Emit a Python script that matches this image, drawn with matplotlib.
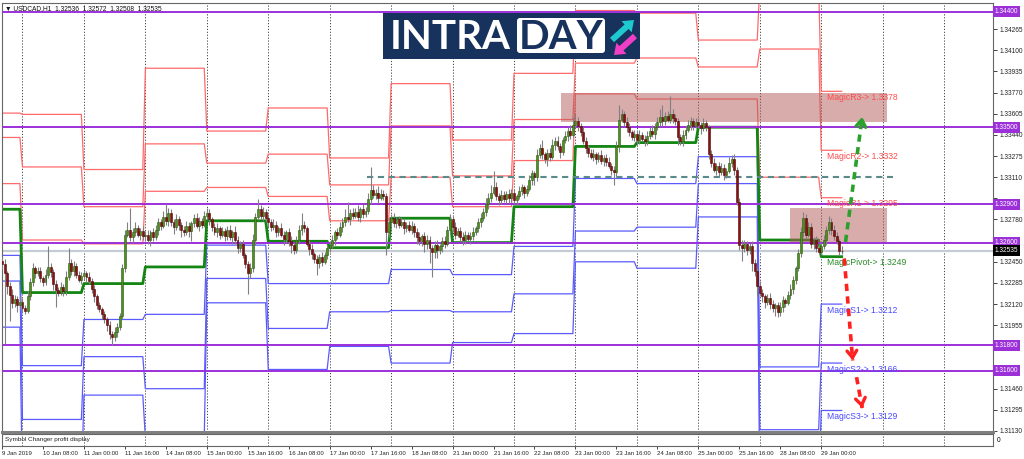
import numpy as np
import pandas as pd
import matplotlib
matplotlib.use("Agg")
import matplotlib.pyplot as plt
from matplotlib.patches import Rectangle, FancyBboxPatch, FancyArrow

plt.rcParams["font.family"] = ["Liberation Sans", "DejaVu Sans"]

# ---- data: USDCAD H1 closes, one row per trading day (first bar 9 Jan 16:00) ----
first_open = 1.3246
closes = [
    1.3243, 1.3236, 1.3226, 1.3219, 1.3213, 1.3216, 1.3211, 1.3214,
    1.3209, 1.3207, 1.3218, 1.3229, 1.3240, 1.3236, 1.3238, 1.3232, 1.3229, 1.3235, 1.3241, 1.3237,
    1.3228, 1.3223, 1.3221, 1.3225, 1.3222, 1.3233, 1.3244, 1.3238, 1.3242, 1.3235, 1.3231, 1.3234,
    1.3236, 1.3233, 1.3230, 1.3224, 1.3218, 1.3211, 1.3208, 1.3204, 1.3200, 1.3196, 1.3189, 1.3186,
    1.3190, 1.3194, 1.3203, 1.3240, 1.3266, 1.3270, 1.3264, 1.3268, 1.3271, 1.3266, 1.3269, 1.3265,
    1.3266, 1.3262, 1.3268, 1.3264, 1.3270, 1.3276, 1.3273, 1.3280, 1.3277, 1.3283, 1.3276, 1.3272,
    1.3278, 1.3274, 1.3270, 1.3268, 1.3273, 1.3269, 1.3275, 1.3279, 1.3273, 1.3277, 1.3274, 1.3281,
    1.3283, 1.3278, 1.3272, 1.3268, 1.3271, 1.3266, 1.3269, 1.3265, 1.3270, 1.3264, 1.3268, 1.3262,
    1.3256, 1.3259, 1.3250, 1.3243, 1.3236, 1.3240, 1.3262, 1.3280, 1.3286, 1.3281, 1.3284, 1.3279,
    1.3276, 1.3272, 1.3274, 1.3268, 1.3271, 1.3266, 1.3263, 1.3268, 1.3261, 1.3258, 1.3254, 1.3262,
    1.3270, 1.3274, 1.3271, 1.3259, 1.3255, 1.3251, 1.3247, 1.3244, 1.3249, 1.3245, 1.3250, 1.3256,
    1.3258, 1.3262, 1.3268, 1.3266, 1.3272, 1.3276, 1.3280, 1.3278, 1.3283, 1.3281, 1.3284, 1.3280,
    1.3286, 1.3282, 1.3285, 1.3294, 1.3301, 1.3297, 1.3299, 1.3295, 1.3298, 1.3296, 1.3268, 1.3276,
    1.3279, 1.3275, 1.3278, 1.3274, 1.3276, 1.3271, 1.3274, 1.3270, 1.3273, 1.3268, 1.3264, 1.3261,
    1.3265, 1.3259, 1.3262, 1.3256, 1.3253, 1.3258, 1.3254, 1.3257, 1.3261, 1.3259, 1.3270, 1.3278,
    1.3272, 1.3266, 1.3269, 1.3264, 1.3262, 1.3266, 1.3263, 1.3265, 1.3268, 1.3271, 1.3276, 1.3279,
    1.3284, 1.3290, 1.3295, 1.3299, 1.3303, 1.3296, 1.3293, 1.3297, 1.3294, 1.3298, 1.3295, 1.3299,
    1.3293, 1.3296, 1.3300, 1.3303, 1.3299, 1.3302, 1.3309, 1.3314, 1.3311, 1.3328, 1.3334, 1.3329,
    1.3325, 1.3330, 1.3327, 1.3336, 1.3339, 1.3335, 1.3331, 1.3340, 1.3343, 1.3347, 1.3344, 1.3352,
    1.3355, 1.3351, 1.3346, 1.3339, 1.3334, 1.3330, 1.3327, 1.3329, 1.3325, 1.3328, 1.3324, 1.3326,
    1.3323, 1.3320, 1.3317, 1.3315, 1.3335, 1.3356, 1.3360, 1.3354, 1.3350, 1.3346, 1.3342, 1.3345,
    1.3340, 1.3344, 1.3341, 1.3339, 1.3343, 1.3347, 1.3345, 1.3350, 1.3354, 1.3358, 1.3355, 1.3359,
    1.3356, 1.3360, 1.3357, 1.3355, 1.3342, 1.3339, 1.3344, 1.3348, 1.3352, 1.3355, 1.3351, 1.3354,
    1.3352, 1.3349, 1.3353, 1.3350, 1.3329, 1.3322, 1.3317, 1.3320, 1.3315, 1.3318, 1.3313, 1.3316,
    1.3322, 1.3325, 1.3317, 1.3292, 1.3258, 1.3256, 1.3259, 1.3254, 1.3257, 1.3244, 1.3238, 1.3226,
    1.3221, 1.3218, 1.3214, 1.3217, 1.3212, 1.3209, 1.3211, 1.3206, 1.3210, 1.3215, 1.3213, 1.3219,
    1.3224, 1.3231, 1.3240, 1.3252, 1.3268, 1.3279, 1.3266, 1.3272, 1.3259, 1.3262, 1.3256, 1.3253,
    1.3257, 1.3262, 1.3270, 1.3276, 1.3270, 1.3265, 1.3261, 1.32536, 1.32535,
]
# wick lengths in pips above / below the body
wick_up = [
    3, 4, 2, 3, 5, 3, 2, 4,
    3, 2, 4, 3, 4, 2, 3, 3, 2, 4, 16, 3, 2, 3, 2, 4, 3, 5, 12, 3, 4, 2, 3, 3,
    3, 2, 4, 2, 3, 2, 3, 2, 3, 2, 3, 2, 4, 3, 2, 3, 4, 6, 17, 3, 5, 3, 2, 4,
    3, 4, 2, 3, 4, 3, 2, 5, 10, 4, 3, 2, 4, 3, 2, 3, 4, 3, 2, 3, 4, 3, 2, 4,
    4, 3, 2, 3, 4, 2, 3, 2, 3, 4, 2, 5, 3, 2, 3, 2, 3, 4, 5, 3, 8, 3, 4, 2,
    3, 2, 4, 3, 2, 4, 3, 2, 3, 4, 2, 3, 4, 9, 3, 2, 3, 4, 2, 3, 2, 4, 3, 2,
    3, 4, 2, 3, 4, 3, 6, 12, 3, 4, 3, 5, 2, 4, 3, 5, 18, 4, 3, 5, 4, 3, 3, 4,
    3, 4, 2, 3, 4, 3, 2, 3, 4, 2, 3, 4, 2, 3, 4, 3, 2, 3, 4, 2, 3, 4, 3, 4,
    3, 4, 2, 3, 4, 3, 2, 3, 4, 2, 3, 4, 3, 5, 4, 6, 13, 4, 3, 4, 3, 2, 4, 3,
    3, 2, 4, 3, 2, 3, 4, 3, 2, 5, 3, 6, 2, 3, 4, 5, 3, 4, 3, 2, 4, 3, 5, 6,
    6, 3, 2, 4, 3, 2, 3, 4, 2, 3, 4, 2, 3, 4, 2, 3, 4, 11, 4, 3, 4, 3, 2, 3,
    3, 4, 2, 3, 4, 3, 5, 3, 4, 6, 9, 3, 4, 14, 4, 3, 2, 3, 4, 3, 4, 3, 2, 3,
    3, 2, 4, 3, 2, 3, 4, 2, 3, 4, 3, 2, 5, 3, 4, 2, 3, 4, 3, 2, 3, 4, 3, 2,
    4, 3, 2, 3, 4, 3, 2, 3, 4, 3, 2, 3, 4, 3, 2, 3, 4, 5, 3, 4, 3, 2, 3, 4,
    3, 4, 3, 5, 3, 4, 3, 2, 3.6,
]
wick_dn = [
    4, 55, 6, 20, 4, 3, 5, 3,
    4, 3, 2, 3, 3, 4, 2, 3, 3, 2, 3, 4, 5, 13, 3, 2, 4, 3, 2, 3, 4, 3, 2, 3,
    3, 4, 2, 3, 4, 3, 2, 4, 3, 5, 4, 6, 3, 4, 2, 3, 3, 2, 3, 4, 3, 2, 4, 3,
    4, 3, 5, 3, 2, 4, 3, 2, 3, 4, 3, 5, 2, 4, 6, 3, 2, 5, 8, 3, 2, 4, 3, 2,
    3, 4, 3, 2, 4, 3, 2, 4, 3, 2, 5, 3, 4, 3, 2, 3, 16, 4, 3, 4, 2, 3, 4, 3,
    4, 3, 2, 4, 3, 2, 5, 3, 4, 6, 3, 2, 3, 4, 3, 2, 5, 4, 3, 9, 4, 3, 2, 3,
    3, 2, 4, 3, 2, 4, 3, 2, 4, 3, 2, 3, 4, 3, 2, 3, 4, 2, 3, 4, 2, 3, 18, 4,
    4, 3, 4, 3, 2, 4, 3, 2, 3, 4, 5, 3, 4, 6, 4, 12, 20, 5, 6, 3, 4, 3, 2, 3,
    4, 3, 2, 3, 4, 3, 2, 4, 3, 2, 3, 4, 2, 3, 4, 3, 2, 3, 4, 3, 2, 3, 4, 3,
    3, 4, 2, 3, 4, 3, 2, 4, 6, 3, 2, 4, 3, 5, 3, 2, 4, 3, 5, 3, 2, 4, 3, 2,
    3, 4, 3, 2, 4, 3, 2, 3, 4, 2, 3, 4, 3, 2, 4, 10, 3, 4, 2, 3, 4, 3, 2, 3,
    4, 3, 2, 4, 3, 2, 3, 4, 2, 3, 4, 3, 2, 3, 4, 3, 6, 3, 4, 3, 2, 4, 3, 2,
    3, 4, 2, 3, 4, 3, 2, 4, 3, 2, 4, 3, 2, 3, 4, 3, 4, 10, 3, 4, 3, 6, 4, 8,
    3, 4, 5, 3, 4, 3, 6, 4, 3, 4, 3, 2, 3, 4, 3, 2, 3, 4, 3, 2, 3, 4, 3, 2,
    3, 2, 4, 3, 4, 3, 2, 3, 2.7,
]

# daily Magic pivot levels (9 Jan ... 29 Jan)
lvl_R3 = [1.3361, 1.3360, 1.3317, 1.3396, 1.3347, 1.3365, 1.3326, 1.3384, 1.3340, 1.3392, 1.3441, 1.3439, 1.3418, 1.3460, 1.3378]
lvl_R2 = [1.3342, 1.3319, 1.3288, 1.3337, 1.3322, 1.3329, 1.3305, 1.3351, 1.3312, 1.3356, 1.3400, 1.3404, 1.3397, 1.3411, 1.3332]
lvl_R1 = [1.3306, 1.3262, 1.3259, 1.3300, 1.3303, 1.3296, 1.3277, 1.3311, 1.3288, 1.3324, 1.3376, 1.3372, 1.3372, 1.3311, 1.3295]
lvl_P = [1.3286, 1.3221, 1.3228, 1.3241, 1.3277, 1.3261, 1.3256, 1.3279, 1.3260, 1.3288, 1.3335, 1.3338, 1.3350, 1.3262, 1.3249]
lvl_S1 = [1.3250, 1.3164, 1.3200, 1.3204, 1.3258, 1.3228, 1.3228, 1.3239, 1.3235, 1.3257, 1.3310, 1.3306, 1.3327, 1.3163, 1.3212]
lvl_S2 = [1.3230, 1.3122, 1.3171, 1.3146, 1.3232, 1.3193, 1.3206, 1.3207, 1.3206, 1.3220, 1.3269, 1.3272, 1.3306, 1.3114, 1.3166]
lvl_S3 = [1.3194, 1.3065, 1.3141, 1.3108, 1.3213, 1.3161, 1.3179, 1.3166, 1.3182, 1.3189, 1.3245, 1.3240, 1.3280, 1.3064, 1.3129]
lvl_names = ["MagicR3", "MagicR2", "MagicR1", "MagicPivot", "MagicS1", "MagicS2", "MagicS3"]

round_levels = [1.3440, 1.3350, 1.3290, 1.3260, 1.3180, 1.3160]
dashed_level = 1.3311
dashed_from = 142.5
zone_lo = [1.33541, 1.32604]
zone_hi = [1.33767, 1.32870]
zone_from = [218.5, 308.0]
zone_to = [345.5, 345.5]
target_up = 1.3358
targets_dn = [1.3168, 1.3131]

# ---- derived ----
W, H = 1024, 459
close = np.array(closes)
n = len(close)
opn = np.r_[first_open, close[:-1]]
hi = np.maximum(opn, close) + np.array(wick_up) * 1e-4
lo = np.minimum(opn, close) - np.array(wick_dn) * 1e-4
idx = np.arange(n)

hours = pd.date_range("2019-01-09 16:00", periods=24 * 40, freq="h")
hours = hours[hours.dayofweek < 5][:400]
day_id = pd.factorize(hours.normalize())[0][:n]

X0, X1 = 0, 387.1
Y_TOP = 1.34430 + 5 / 12818
Y_BOT = 1.34430 - 424 / 12818


def box(l, t, r, b):
    return [l / W, 1 - b / H, (r - l) / W, (b - t) / H]


fig = plt.figure(figsize=(W / 100, H / 100), dpi=100)
ax = fig.add_axes(box(2, 3, 993, 432))
sub = fig.add_axes(box(2, 434, 993, 446))

# day separators
seps = [i for i, t in enumerate(hours) if t.hour == 0 and i < X1]
for a in (ax, sub):
    for s in seps:
        a.axvline(s, color="#444444", lw=0.7, ls=(0, (1.2, 1.8)), zorder=1)

# current price line
ax.axhline(close[-1], color="#c6ccd3", lw=1.6, zorder=1.5)

# pivot lines
levels = [lvl_R3, lvl_R2, lvl_R1, lvl_P, lvl_S1, lvl_S2, lvl_S3]
colors = ["#ff6a6a", "#ff6a6a", "#ff6a6a", "#138513", "#5a5aff", "#5a5aff", "#5a5aff"]
for lv, c in zip(levels, colors):
    y = np.array(lv)[day_id]
    thick = c == "#138513"
    ax.plot(idx, y, color=c, lw=2.0 if thick else 0.9, zorder=2.2 if thick else 2)

# zones
for lo_, hi_, f, t in zip(zone_lo, zone_hi, zone_from, zone_to):
    ax.add_patch(Rectangle((f, lo_), t - f, hi_ - lo_, fc="#b45a5a", ec="none", alpha=0.5, zorder=3))

# round-number levels with price boxes on the scale
box_kw = dict(fontsize=4.7, color="white", va="center", ha="left", zorder=10, clip_on=False,
              transform=ax.get_yaxis_transform())
for lv in round_levels:
    ax.axhline(lv, color="#9b30d9", lw=1.4, zorder=3.5)
    ax.text(1.002, lv, f"{lv:.5f}", bbox=dict(boxstyle="square,pad=0.3", fc="#9b30d9", ec="none"), **box_kw)
ax.text(1.002, close[-1], f"{close[-1]:.5f}", bbox=dict(boxstyle="square,pad=0.3", fc="black", ec="none"),
        **box_kw)

# dashed level
ax.plot([dashed_from, 348], [dashed_level, dashed_level], color="#5b8a8a", lw=1.5,
        ls=(0, (3, 2.2)), zorder=3.6)

# candles
up = close >= opn
ax.vlines(idx, lo, hi, color="#808080", lw=0.8, zorder=4)
body = np.maximum(np.abs(close - opn), 0.00003)
bot = np.minimum(opn, close)
ax.bar(idx[up], body[up], bottom=bot[up], width=0.75, color="#4e8f1f", edgecolor="#2c5a10", lw=0.4, zorder=5)
ax.bar(idx[~up], body[~up], bottom=bot[~up], width=0.75, color="#8b1010", edgecolor="#4a0808", lw=0.4, zorder=5)

# labels for current day levels
lab_colors = ["#ff4a4a", "#ff4a4a", "#ff4a4a", "#2a8a2a", "#4a4aff", "#4a4aff", "#4a4aff"]
for name, lv, c in zip(lvl_names, levels, lab_colors):
    ax.annotate(f"{name}-> {lv[-1]:.4f}", xy=(322.3, lv[-1]), xytext=(0, -1.2), textcoords="offset points",
                fontsize=6.2, color=c, ha="left", va="top", zorder=6)

# forecast arrows
last = n - 1


def dashed_arrow(x0, y0, x1, y1, c):
    ax.plot([x0, x1], [y0, y1], color=c, lw=2.6, ls=(0, (2, 1.5)), zorder=7, solid_capstyle="butt")
    ax.annotate("", xy=(x1, y1), xytext=(x1 - 0.04 * (x1 - x0), y1 - 0.04 * (y1 - y0)),
                arrowprops=dict(arrowstyle="->,head_length=0.5,head_width=0.35", lw=2.4, color=c,
                                shrinkA=0, shrinkB=0), zorder=7)


dashed_arrow(last + 1.5, close[-1] + 0.0007, last + 8, target_up, "#2ca02c")
dashed_arrow(last + 1, close[-1] - 0.0006, last + 4.3, targets_dn[0], "#ff2020")
dashed_arrow(last + 5.8, targets_dn[0] - 0.0013, last + 8, targets_dn[1], "#ff2020")

ax.set_xlim(X0, X1)
ax.set_ylim(Y_BOT, Y_TOP)
ax.set_xticks([])
ax.yaxis.tick_right()
ticks = 1.31130 + 0.00165 * np.arange(21)
boxed = round_levels + [close[-1]]
ax.set_yticks(ticks)
# scale labels that sit under a price box are hidden, as on the terminal
ax.set_yticklabels(["" if min(abs(v - b) for b in boxed) < 0.0005 else f"{v:.5f}" for v in ticks])
ax.tick_params(axis="y", labelsize=4.7, length=3, pad=1.5, width=0.6, colors="#222222")
for s in ax.spines.values():
    s.set_color("#666666")
    s.set_linewidth(0.8)
ax.spines["bottom"].set_color("#808080")
ax.spines["bottom"].set_linewidth(2.2)

# header
ax.text(0.003, 0.995, "\u25bc USDCAD,H1  1.32536  1.32572  1.32508  1.32535", transform=ax.transAxes,
        fontsize=4.8, va="top", ha="left", color="#111111", zorder=10)

# sub window
sub.set_xlim(X0, X1)
sub.set_ylim(-1, 1)
sub.yaxis.tick_right()
sub.set_yticks([0])
sub.set_yticklabels(["0"])
sub.tick_params(axis="y", labelsize=4.7, length=0, pad=3)
tick_pos = list(range(0, n, 16))
tick_lab = []
for k in tick_pos:
    t = hours[k]
    tick_lab.append(f"{t.day} {t:%b} {t.year}" if k == 0 else f"{t.day} {t:%b} {t:%H:%M}")
sub.set_xticks(tick_pos)
sub.set_xticklabels(tick_lab, ha="left")
sub.tick_params(axis="x", labelsize=4.3, length=2, pad=1.5, width=0.6, colors="#222222")
sub.text(0.003, 0.5, "Symbol Changer profit display", transform=sub.transAxes, fontsize=4.6,
         va="center", ha="left", color="#222222")
for s in sub.spines.values():
    s.set_color("#666666")
    s.set_linewidth(0.8)

# logo
lg = fig.add_axes(box(383, 13, 640, 59))
lg.set_xlim(0, 257)
lg.set_ylim(46, 0)
lg.axis("off")
navy = "#17325c"
lg.add_patch(Rectangle((0, 0), 257, 46, color=navy))
lg.text(7, 24.5, "INTRA", color="white", fontsize=29, fontweight="bold", family="Lato", va="center", ha="left")
lg.add_patch(FancyBboxPatch((134, 5), 88, 35, boxstyle="round,pad=0,rounding_size=3", fc="white", ec="none"))
lg.text(178, 24.5, "DAY", color=navy, fontsize=29, fontweight="bold", family="Lato", va="center", ha="center")
lg.add_patch(FancyArrow(229, 27, 22, -20, width=6, head_width=15, head_length=10,
                        length_includes_head=True, color="#1ec9cf", lw=0))
lg.add_patch(FancyArrow(252, 23, -21, 19, width=6, head_width=15, head_length=10,
                        length_includes_head=True, color="#f03fc6", lw=0))

fig.savefig("out.png", dpi=100)
